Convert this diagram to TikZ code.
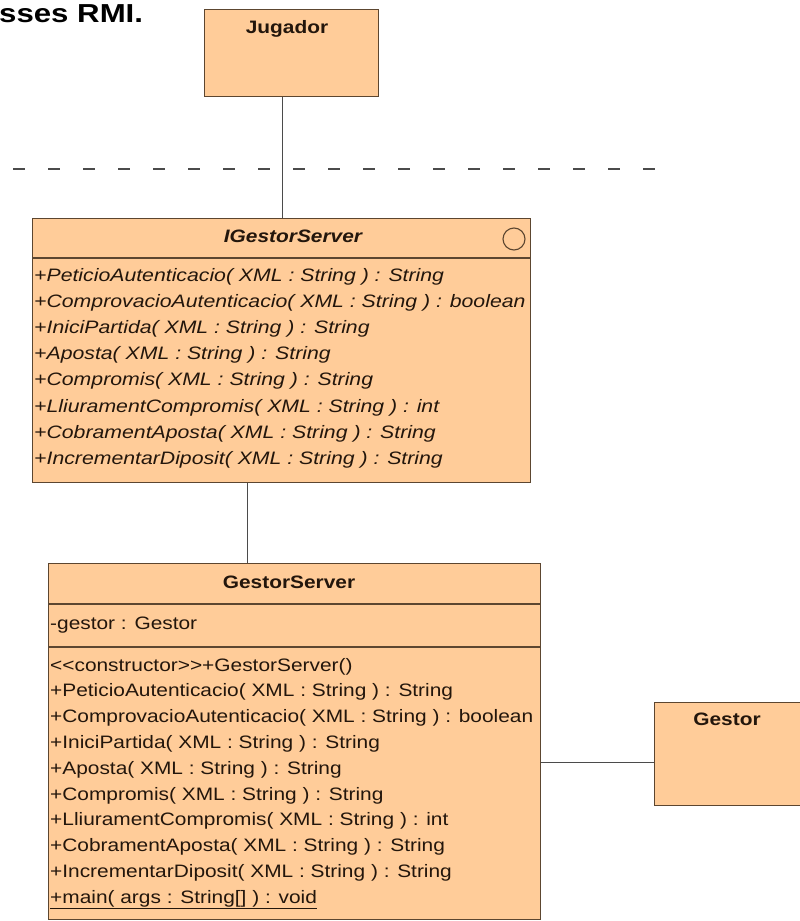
\documentclass[tikz,border=0pt]{standalone}
\usepackage{fontspec}
\setmainfont{Liberation Sans}
\usepackage{graphicx}

\definecolor{peach}{RGB}{255,204,153}
\definecolor{umlborder}{RGB}{92,70,48}
\definecolor{umltext}{RGB}{35,22,12}
\definecolor{wire}{RGB}{75,75,75}

\newcommand\umlfont{\fontsize{18}{20}\selectfont}
\newcommand\stretchtxt[1]{\scalebox{1.16}[1]{#1}}
\newcommand\stretchital[1]{\scalebox{1.18}[1]{#1}}

\tikzset{
  classbox/.style={draw=umlborder, fill=peach, line width=1.2pt, inner sep=0pt, anchor=north west},
  member/.style={anchor=base west, inner sep=0pt, text=umltext, font=\umlfont},
  opsig/.style={member, font=\umlfont\itshape},
  heading/.style={anchor=base, inner sep=0pt, text=umltext, font=\umlfont\bfseries},
  divider/.style={draw=umlborder, line width=1.2pt},
  link/.style={draw=wire, line width=1pt},
  boundary/.style={draw=wire, line width=1.3pt, dash pattern=on 12pt off 23pt},
}

\begin{document}
\begin{tikzpicture}[x=1pt, y=-1pt]
  \useasboundingbox (0,0) rectangle (800,921);
  \clip (0,0) rectangle (800,921);
  \fill[white] (0,0) rectangle (800,921);

  % section heading (cut at the left edge)
  \node[anchor=base west, inner sep=0pt, font=\fontsize{26}{26}\selectfont\bfseries] (caption) at (-1,22) {\scalebox{1.2}[1]{sses RMI.}};

  % client/server boundary
  \coordinate (dashL) at (13,169);
  \coordinate (dashR) at (660,169);
  \draw[boundary] (dashL) -- (dashR);

  % class boxes
  \node[classbox, minimum width=174pt, minimum height=87pt]  (jugador) at (204,9)   {};
  \node[classbox, minimum width=498pt, minimum height=264pt] (igestor) at (32,218)  {};
  \node[classbox, minimum width=492pt, minimum height=356pt] (gserver) at (48,563)  {};
  \node[classbox, minimum width=160pt, minimum height=103pt] (gestor)  at (654,702) {};

  % compartment dividers
  \draw[divider] (igestor.north west) ++(0,40) -- ++(498,0);
  \draw[divider] (gserver.north west) ++(0,41) -- ++(492,0);
  \draw[divider] (gserver.north west) ++(0,84) -- ++(492,0);

  % interface marker
  \node[draw=umlborder, line width=1.1pt, circle, minimum size=22pt, inner sep=0pt] (ifmark) at (514,239) {};

  % headings
  \node[heading] (tJugador) at (287,33)  {\stretchtxt{Jugador}};
  \node[heading, font=\umlfont\bfseries\itshape] (tIGestor) at (293,242) {\stretchtxt{IGestorServer}};
  \node[heading] (tGServer) at (289,588) {\stretchtxt{GestorServer}};
  \node[heading] (tGestor)  at (727,725) {\stretchtxt{Gestor}};

  % interface operations
  \foreach \op [count=\i from 0] in {
      +PeticioAutenticacio( XML : String ) : String,
      +ComprovacioAutenticacio( XML : String ) : boolean,
      +IniciPartida( XML : String ) : String,
      +Aposta( XML : String ) : String,
      +Compromis( XML : String ) : String,
      +LliuramentCompromis( XML : String ) : int,
      +CobramentAposta( XML : String ) : String,
      +IncrementarDiposit( XML : String ) : String}
    \node[opsig] (iop\i) at (34,281+26.2*\i) {\stretchital{\op}};

  % server attribute
  \node[member] (attr) at (50,629) {\stretchtxt{-gestor : Gestor}};

  % server operations
  \node[member] (sopctor) at (50,671) {\stretchtxt{<\kern0pt<constructor>\kern0pt>+GestorServer()}};
  \foreach \op [count=\i from 1] in {
      +PeticioAutenticacio( XML : String ) : String,
      +ComprovacioAutenticacio( XML : String ) : boolean,
      +IniciPartida( XML : String ) : String,
      +Aposta( XML : String ) : String,
      +Compromis( XML : String ) : String,
      +LliuramentCompromis( XML : String ) : int,
      +CobramentAposta( XML : String ) : String,
      +IncrementarDiposit( XML : String ) : String}
    \node[member] (sop\i) at (50,671+25.8*\i) {\stretchtxt{\op}};
  \node[member] (sopmain) at (50,903) {\stretchtxt{\underline{+main( args : String[] ) : void}}};

  % associations
  \coordinate (jx) at (282,0);
  \coordinate (gx) at (247,0);
  \coordinate (gy) at (0,762);
  \draw[link] (jugador.south -| jx) -- (igestor.north -| jx);
  \draw[link] (igestor.south -| gx) -- (gserver.north -| gx);
  \draw[link] (gserver.east |- gy) -- (gestor.west |- gy);
\end{tikzpicture}
\end{document}
